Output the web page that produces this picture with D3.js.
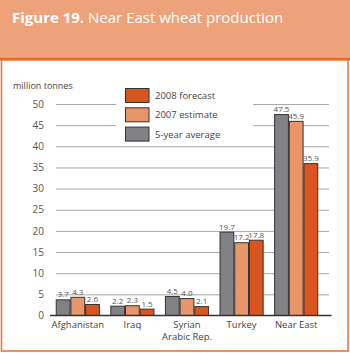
<!DOCTYPE html>
<html><head><meta charset="utf-8">
<script src="https://cdn.jsdelivr.net/npm/d3@7"></script>
<style>
html,body{margin:0;padding:0;background:#fff;}
svg{display:block;}
text{font-family:"Open Sans","Noto Sans",sans-serif;}
</style></head>
<body>
<script>
const categories = ["Afghanistan", "Iraq", "Syrian\nArabic Rep.", "Turkey", "Near East"];
const seriesNames = ["5-year average", "2007 estimate", "2008 forecast"];
const avg5 = [3.7, 2.2, 4.5, 19.7, 47.5];
const est2007 = [4.3, 2.3, 4.0, 17.2, 45.9];
const fc2008 = [2.6, 1.5, 2.1, 17.8, 35.9];
const yTicks = [0, 5, 10, 15, 20, 25, 30, 35, 40, 45, 50];
const colors = ["#818186", "#E9956A", "#D9541F"];

const W = 350, H = 353;
const svg = d3.select("body").append("svg").attr("width", W).attr("height", H);

// header
svg.append("rect").attr("x",0).attr("y",0).attr("width",W).attr("height",58).attr("fill","#EDA27A");
svg.append("rect").attr("x",0).attr("y",58).attr("width",W).attr("height",2.5).attr("fill","#E0622A");
svg.append("rect").attr("x",1.5).attr("y",60).attr("width",346.5).attr("height",291).attr("fill","#fff")
  .attr("stroke","#EA7640").attr("stroke-width",1.6);

const title = svg.append("text").attr("x",12).attr("y",23).attr("fill","#fff").style("font-size","15px");
title.append("tspan").attr("font-weight","bold").text("Figure 19.");
title.append("tspan").text(" Near East wheat production");

const y = d3.scaleLinear().domain([0,50]).range([315.5,104]);
const x0 = d3.scaleBand().domain(categories).range([50.5,323.5]).paddingInner(0.21).paddingOuter(0.105);
const x1 = d3.scaleBand().domain(seriesNames).range([0,x0.bandwidth()]).paddingInner(0.06);

// gridlines
const grid = svg.append("g")
  .call(d3.axisLeft(y).tickValues(yTicks.filter(d=>d>0)).tickSize(-273).tickFormat(""))
  .attr("transform","translate(56,0)");
grid.select(".domain").remove();
grid.selectAll("line").attr("stroke","#a8a8a8").attr("stroke-width",1);

// y labels
const yl = svg.append("g").attr("transform","translate(44,0)")
  .call(d3.axisLeft(y).tickValues(yTicks).tickSize(0).tickPadding(0));
yl.select(".domain").remove();
yl.selectAll("text").attr("fill","#555").style("font-size","10px").style("font-family","'Open Sans','Noto Sans',sans-serif");

svg.append("text").attr("x",13).attr("y",89).attr("fill","#444").style("font-size","9px").text("million tonnes");

// legend background
const lg = svg.append("g");
lg.append("rect").attr("x",116).attr("y",84).attr("width",137).attr("height",60).attr("fill","#fff");
const legendOrder = [2,1,0];
legendOrder.forEach((si,i)=>{
  const yy = 88.5 + i*19.3;
  lg.append("rect").attr("x",125.5).attr("y",yy).attr("width",23.5).attr("height",14).attr("fill",colors[si]).attr("stroke","#333").attr("stroke-width",1);
  lg.append("text").attr("x",155).attr("y",yy+10.5).attr("fill","#444").style("font-size","9.5px").text(seriesNames[si]);
});

const seriesVals = [avg5, est2007, fc2008];
const data = categories.map((c,i)=>({cat:c, vals: seriesNames.map((s,j)=>({s, v: seriesVals[j][i], j}))}));

const groups = svg.append("g").selectAll("g").data(data).join("g")
  .attr("transform", d=>`translate(${x0(d.cat)},0)`);
groups.selectAll("rect").data(d=>d.vals).join("rect")
  .attr("x", d=>x1(d.s)).attr("y", d=>y(d.v)).attr("width", x1.bandwidth())
  .attr("height", d=>y(0)-y(d.v)).attr("fill", d=>colors[d.j]).attr("stroke","#333").attr("stroke-width",1);
groups.selectAll("text.val").data(d=>d.vals).join("text").attr("class","val")
  .attr("x", d=>x1(d.s)+x1.bandwidth()/2).attr("y", d=>y(d.v)-2.5)
  .attr("text-anchor","middle").attr("fill","#555").style("font-size","8px").text(d=>d.v.toFixed(1));

// x axis
svg.append("line").attr("x1",50).attr("x2",331.5).attr("y1",315.5).attr("y2",315.5).attr("stroke","#333").attr("stroke-width",1.3);
const xl = svg.append("g");
categories.forEach(c=>{
  const lines = c.split("\n");
  lines.forEach((ln,k)=>{
    xl.append("text").attr("text-anchor","middle").attr("fill","#444").style("font-size","9.5px")
      .attr("x", x0(c)+x0.bandwidth()/2).attr("y", 327.5 + k*12).text(ln);
  });
});
</script>
</body></html>
